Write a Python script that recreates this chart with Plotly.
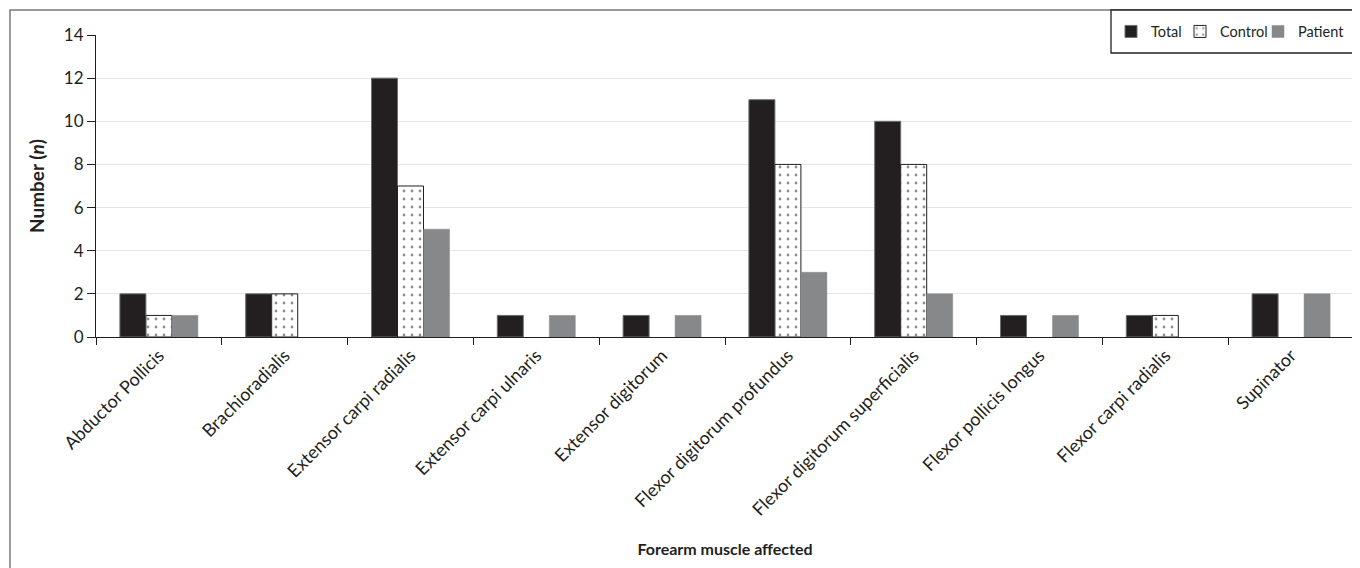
import plotly.graph_objects as go

categories = ["Abductor Pollicis", "Brachioradialis", "Extensor carpi radialis",
              "Extensor carpi ulnaris", "Extensor digitorum", "Flexor digitorum profundus",
              "Flexor digitorum superficialis", "Flexor pollicis longus",
              "Flexor carpi radialis", "Supinator"]
total = [2, 2, 12, 1, 1, 11, 10, 1, 1, 2]
control = [1, 2, 7, 0, 0, 8, 8, 0, 1, 0]
patient = [1, 0, 5, 1, 1, 3, 2, 1, 0, 2]
y_ticks = [0, 2, 4, 6, 8, 10, 12, 14]

W, H = 1360, 568
OFF = 8  # page body margin offset
# target plot area in screenshot pixels: x 96..1354, y 35..337
ML = 96 - OFF
MT = 35 - OFF
MR = W - (1354 - OFF)
MB = H - (337 - OFF)
FONT = "Lato, 'Open Sans', sans-serif"


def outline(vals, w):
    return [w if v else 0 for v in vals]


fig = go.Figure()
fig.add_trace(go.Bar(name="Total", x=categories, y=total, legend="legend",
                     marker=dict(color="#231f20",
                                 line=dict(color="#6d6e70", width=outline(total, 1)))))
fig.add_trace(go.Bar(name="Control", x=categories, y=control, legend="legend2",
                     marker=dict(color="white",
                                 line=dict(color="#231f20", width=outline(control, 1)),
                                 pattern=dict(shape=".", fgcolor="#231f20", bgcolor="white",
                                              size=8, solidity=0.1))))
fig.add_trace(go.Bar(name="Patient", x=categories, y=patient, legend="legend3",
                     marker=dict(color="#87888a",
                                 line=dict(color="#87888a", width=outline(patient, 0.5)))))

pw = W - ML - MR
ph = H - MT - MB


def px2paper_x(px):
    return (px - OFF - ML) / pw


def px2paper_y(py):
    return (H - MB - (py - OFF)) / ph


# outer chart border
fig.add_shape(type="rect", xref="paper", yref="paper",
              x0=px2paper_x(10), x1=px2paper_x(1380), y0=px2paper_y(590), y1=px2paper_y(10),
              line=dict(color="#7a7a7a", width=1.5), fillcolor="rgba(0,0,0,0)", layer="below")
# legend box
fig.add_shape(type="rect", xref="paper", yref="paper",
              x0=px2paper_x(1111), x1=px2paper_x(1380), y0=px2paper_y(53), y1=px2paper_y(10),
              line=dict(color="#231f20", width=1.3), fillcolor="white", layer="above")


def leg(px):
    return dict(orientation="h", xref="paper", yref="paper",
                x=px2paper_x(px), xanchor="left", y=px2paper_y(31.5), yanchor="middle",
                borderwidth=0, bgcolor="rgba(0,0,0,0)", itemwidth=30,
                font=dict(size=14.5, family=FONT))


fig.update_layout(
    width=W, height=H,
    margin=dict(l=ML, r=MR, t=MT, b=MB, autoexpand=False),
    paper_bgcolor="white", plot_bgcolor="white",
    font=dict(family=FONT, size=17, color="#231f20"),
    barmode="group", bargap=0.38, bargroupgap=0,
    showlegend=True,
    legend=leg(1111), legend2=leg(1180), legend3=leg(1258),
    xaxis=dict(showline=True, linecolor="#231f20", linewidth=1,
               ticks="outside", tickson="boundaries", ticklen=7, tickcolor="#231f20",
               tickangle=-45, tickfont=dict(size=18),
               title=dict(text="<b>Forearm muscle affected</b>", font=dict(size=16), standoff=24),
               showgrid=False),
    yaxis=dict(range=[0, 14], tickvals=y_ticks, showline=True, linecolor="#231f20", linewidth=1,
               ticks="outside", ticklen=8, tickcolor="#231f20",
               tickfont=dict(size=17),
               showgrid=True, gridcolor="#e6e6e6", gridwidth=1, zeroline=False,
               title=dict(text="<b>Number (<i>n</i>)</b>", font=dict(size=19), standoff=14)),
)

fig.write_html("out.html")
